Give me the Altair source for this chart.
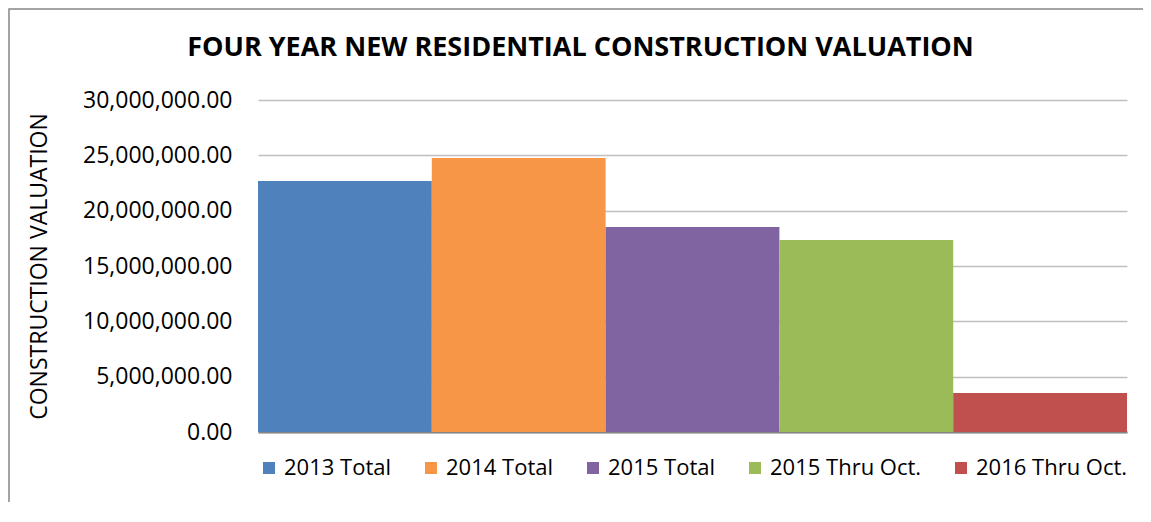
import altair as alt
import pandas as pd

categories = ["2013 Total", "2014 Total", "2015 Total", "2015 Thru Oct.", "2016 Thru Oct."]
values = [22680000, 24760000, 18520000, 17350000, 3520000]
colors = ["#4F81BD", "#F79646", "#8064A2", "#9BBB59", "#C0504D"]
y_ticks = [0, 5000000, 10000000, 15000000, 20000000, 25000000, 30000000]

df = pd.DataFrame({"category": categories, "value": values})
FONT = "Open Sans"

bars = alt.Chart(df).mark_bar(opacity=1).encode(
    x=alt.X("category:N", sort=categories,
            scale=alt.Scale(paddingInner=0, paddingOuter=0),
            axis=alt.Axis(labels=False, ticks=False, title=None, domain=True,
                          domainColor="#868686", domainWidth=2)),
    y=alt.Y("value:Q", scale=alt.Scale(domain=[0, 30000000]),
            axis=alt.Axis(values=y_ticks, format=",.2f", title="CONSTRUCTION VALUATION",
                          domain=False, ticks=False, labelPadding=26,
                          labelFont=FONT, labelFontSize=23, labelColor="#000000",
                          titleFont=FONT, titleFontSize=23, titleFontWeight="normal",
                          titleColor="#000000", titlePadding=31,
                          grid=True, gridColor="#BFBFBF", gridWidth=1.5)),
    color=alt.Color("category:N", sort=categories,
                    scale=alt.Scale(domain=categories, range=colors),
                    legend=alt.Legend(title=None, orient="bottom", direction="horizontal",
                                      symbolType="square", symbolSize=144,
                                      symbolStrokeWidth=0, labelFont=FONT,
                                      labelFontSize=22, labelColor="#000000",
                                      columnPadding=28, labelOffset=4, offset=25,
                                      padding=0, labelLimit=300)),
)

border = alt.Chart(alt.Data(values=[{}])).mark_rect(
    fill=None, stroke="#868686", strokeWidth=1.5
).encode(
    x=alt.value(-249), x2=alt.value(920), y=alt.value(-91), y2=alt.value(500)
)

chart = alt.layer(border, bars).properties(
    width=869, height=332,
    title=alt.TitleParams("FOUR YEAR NEW RESIDENTIAL CONSTRUCTION VALUATION",
                          font=FONT, fontSize=27, fontWeight="bold", color="#000000",
                          anchor="middle", dx=-112, offset=-54),
    autosize=alt.AutoSizeParams(type="none"),
    padding={"left": 250, "top": 92, "right": 16, "bottom": 70},
).configure_view(stroke=None)

chart.save("out.html", embed_options={"renderer": "svg", "actions": False})
